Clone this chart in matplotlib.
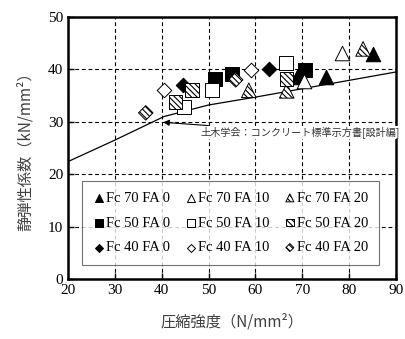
import numpy as np
import matplotlib
matplotlib.use("Agg")
import matplotlib.pyplot as plt

plt.rcParams['font.family'] = ['Liberation Serif', 'Noto Sans CJK JP']
plt.rcParams['hatch.linewidth'] = 0.8

# データ
fc70_fa0_x = [69.0, 75.1, 85.1];  fc70_fa0_y = [38.6, 38.5, 42.9]
fc70_fa10_x = [70.4, 78.5];       fc70_fa10_y = [37.7, 43.1]
fc70_fa20_x = [58.6, 66.7, 83.0]; fc70_fa20_y = [36.0, 35.9, 43.9]
fc50_fa0_x = [51.4, 55.0, 70.6];  fc50_fa0_y = [38.1, 39.1, 39.9]
fc50_fa10_x = [44.8, 50.7, 66.5]; fc50_fa10_y = [32.9, 36.1, 41.2]
fc50_fa20_x = [43.0, 46.5, 66.7]; fc50_fa20_y = [33.8, 36.1, 38.2]
fc40_fa0_x = [44.5, 62.9];        fc40_fa0_y = [37.0, 40.0]
fc40_fa10_x = [40.5, 59.1];       fc40_fa10_y = [36.1, 39.9]
fc40_fa20_x = [36.6, 55.8];       fc40_fa20_y = [31.7, 38.0]

# 土木学会 式
jsce_x = [20, 30, 40.5, 50, 60, 70, 80, 90]
jsce_y = [22.4, 26.5, 31.0, 33.2, 34.7, 36.3, 37.9, 39.5]

fig = plt.figure(figsize=(4.06, 3.39), dpi=100)
ax = fig.add_axes([0.1675, 0.177, 0.8075, 0.773])

ax.plot(jsce_x, jsce_y, color="k", lw=0.9, zorder=2)

hatch = "\\\\\\\\\\\\"
series = [
    # (x, y, marker, size, face, hatch, label)
    (fc70_fa0_x, fc70_fa0_y, "^", 110, "k", None, "Fc 70 FA 0"),
    (fc50_fa0_x, fc50_fa0_y, "s", 95, "k", None, "Fc 50 FA 0"),
    (fc40_fa0_x, fc40_fa0_y, "D", 55, "k", None, "Fc 40 FA 0"),
    (fc70_fa10_x, fc70_fa10_y, "^", 110, "w", None, "Fc 70 FA 10"),
    (fc50_fa10_x, fc50_fa10_y, "s", 95, "w", None, "Fc 50 FA 10"),
    (fc40_fa10_x, fc40_fa10_y, "D", 55, "w", None, "Fc 40 FA 10"),
    (fc70_fa20_x, fc70_fa20_y, "^", 110, "w", hatch, "Fc 70 FA 20"),
    (fc50_fa20_x, fc50_fa20_y, "s", 95, "w", hatch, "Fc 50 FA 20"),
    (fc40_fa20_x, fc40_fa20_y, "D", 55, "w", hatch, "Fc 40 FA 20"),
]
handles = []
for x, y, m, s, fcol, h, lab in series:
    sc = ax.scatter(x, y, marker=m, s=s, facecolor=fcol, edgecolor="k",
                    linewidths=0.7, hatch=h, label=lab, zorder=3)
    handles.append(sc)

ax.annotate("土木学会：コンクリート標準示方書[設計編]", xy=(40.3, 29.9),
            xytext=(48.3, 28.0), fontsize=7.3, va="center", ha="left",
            family=['Noto Sans CJK JP'], color="0.2",
            bbox=dict(fc="w", ec="none", pad=0.5),
            arrowprops=dict(arrowstyle="-|>", color="k", lw=0.8,
                            mutation_scale=9, shrinkA=0, shrinkB=0),
            annotation_clip=False, zorder=5)

leg = ax.legend(handles=handles, ncol=3, loc="lower left",
                bbox_to_anchor=(0.021, 0.027, 0.949, 0.305), mode="expand",
                fontsize=10.5, frameon=True, fancybox=False, edgecolor="0.3",
                handletextpad=0.05, handlelength=0.9, columnspacing=0.5,
                labelspacing=0.8, borderpad=0.7, markerscale=0.55,
                scatterpoints=1)
leg.get_frame().set_linewidth(0.8)
leg.set_zorder(4)

ax.set_xlim(20, 90)
ax.set_ylim(0, 50)
ax.set_xticks(np.arange(20, 91, 10))
ax.set_yticks(np.arange(0, 51, 10))
ax.tick_params(direction="in", labelsize=11, length=4, width=1)
ax.grid(True, ls=(0, (3.5, 2.5)), color="k", lw=0.8)
ax.set_axisbelow(True)
for sp in ax.spines.values():
    sp.set_linewidth(1.8)

ax.set_xlabel("圧縮強度（N/mm²）", fontsize=11, family=['Noto Sans CJK JP'],
              color="0.25", labelpad=12)
ax.set_ylabel("静弾性係数（kN/mm²）", fontsize=11, family=['Noto Sans CJK JP'],
              color="0.25", labelpad=10)

fig.savefig("out.png", dpi=100)
